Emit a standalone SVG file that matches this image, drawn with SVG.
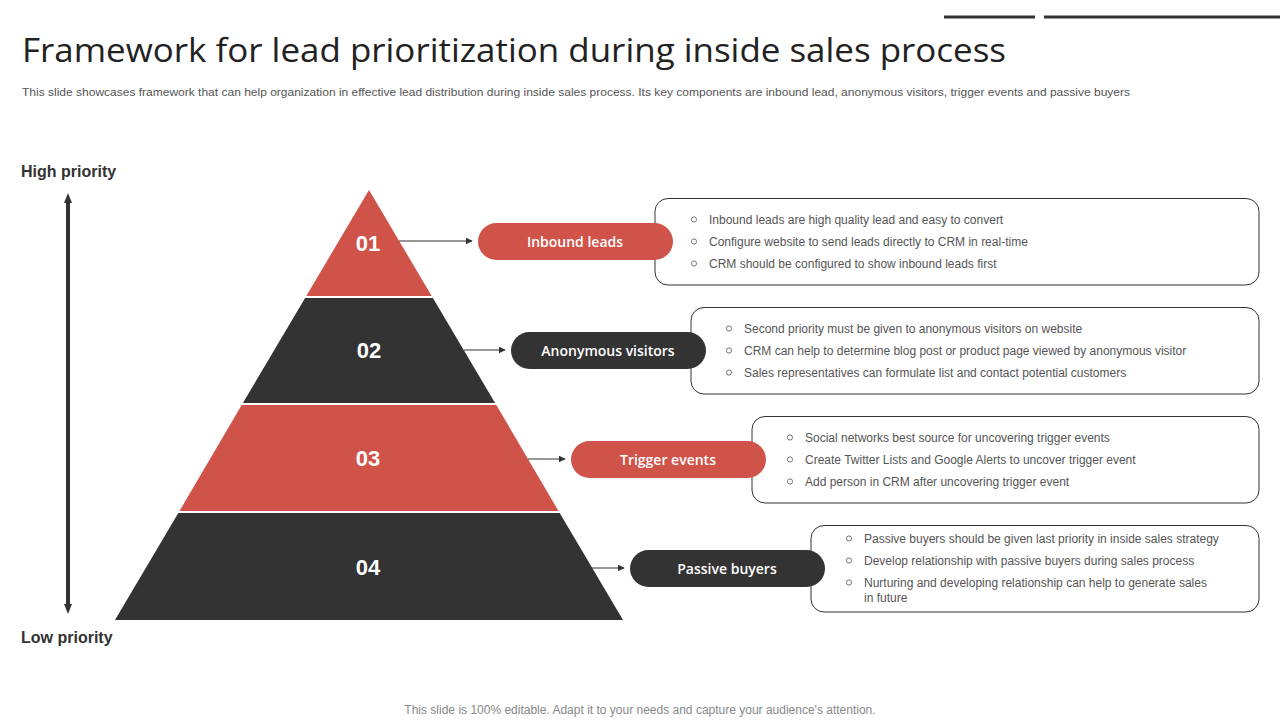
<svg xmlns="http://www.w3.org/2000/svg" width="1280" height="720" viewBox="0 0 1280 720">
<defs>
<style>
.title{font-family:"Open Sans","Liberation Sans",sans-serif;font-size:33px;fill:#222}
.sub{font-family:"Liberation Sans",Arial,sans-serif;font-size:11px;fill:#555}
.axis{font-family:"Liberation Sans",Arial,sans-serif;font-size:16px;font-weight:bold;fill:#333}
.num{font-family:"Liberation Sans",Arial,sans-serif;font-size:22px;font-weight:bold;fill:#fff;text-anchor:middle}
.pill{font-family:"Open Sans","Noto Sans",sans-serif;font-size:14px;font-weight:600;fill:#fff;text-anchor:middle}
.bul{font-family:"Liberation Sans",Arial,sans-serif;font-size:12px;fill:#555}
.dot{fill:none;stroke:#666;stroke-width:0.9}
.box{fill:#fff;stroke:#333;stroke-width:1}
.red{fill:#D0534A}
.dark{fill:#333333}
.conn{stroke:#333;stroke-width:1.2;fill:none}
.foot{font-family:"Liberation Sans",Arial,sans-serif;font-size:12px;fill:#888;text-anchor:middle}
</style>
<marker id="ah" viewBox="0 0 10 10" refX="9" refY="5" markerWidth="7" markerHeight="7" markerUnits="userSpaceOnUse" orient="auto">
<path d="M0,0 L10,5 L0,10 z" fill="#333"/>
</marker>
<marker id="vh" viewBox="0 0 10 10" refX="5" refY="5" markerWidth="10" markerHeight="10" markerUnits="userSpaceOnUse" orient="auto-start-reverse">
<path d="M0,1 L10,5 L0,9 z" fill="#333"/>
</marker>
</defs>
<rect width="1280" height="720" fill="#fff"/>

<g id="topbars">
<line x1="944" y1="17" x2="1035" y2="17" stroke="#333" stroke-width="3"/>
<line x1="1044" y1="17" x2="1280" y2="17" stroke="#333" stroke-width="3"/>
</g>

<g id="header">
<text class="title" x="22" y="62" textLength="984" lengthAdjust="spacingAndGlyphs">Framework for lead prioritization during inside sales process</text>
<text class="sub" x="22" y="96" textLength="1108" lengthAdjust="spacingAndGlyphs">This slide showcases framework that can help organization in effective  lead distribution during inside sales process. Its key  components are inbound lead, anonymous visitors, trigger events and passive buyers</text>
</g>

<g id="priority-axis">
<text class="axis" x="21" y="177">High priority</text>
<text class="axis" x="21" y="643">Low priority</text>
<line x1="68" y1="198" x2="68" y2="609" stroke="#333" stroke-width="4" marker-start="url(#vh)" marker-end="url(#vh)"/>
</g>

<g id="pyramid">
<g id="level-01">
<polygon class="red" points="369,190 431.7,296 306.3,296"/>
<text class="num" x="368" y="251">01</text>
</g>
<g id="level-02">
<polygon class="dark" points="305.1,298 432.9,298 495.1,403 242.9,403"/>
<text class="num" x="369" y="358">02</text>
</g>
<g id="level-03">
<polygon class="red" points="241.7,405 496.3,405 558.5,511 179.5,511"/>
<text class="num" x="368" y="466">03</text>
</g>
<g id="level-04">
<polygon class="dark" points="178.3,513 559.7,513 623,620 115,620"/>
<text class="num" x="368" y="575">04</text>
</g>
</g>

<g id="connectors">
<line class="conn" x1="399" y1="241" x2="472" y2="241" marker-end="url(#ah)"/>
<line class="conn" x1="464" y1="350" x2="505" y2="350" marker-end="url(#ah)"/>
<line class="conn" x1="528" y1="459" x2="565" y2="459" marker-end="url(#ah)"/>
<line class="conn" x1="591" y1="568" x2="624" y2="568" marker-end="url(#ah)"/>
</g>

<g id="box-01">
<rect class="box" x="655" y="198.5" width="604" height="86.5" rx="13"/>
<circle class="dot" cx="694" cy="219.5" r="2.6"/>
<circle class="dot" cx="694" cy="241.5" r="2.6"/>
<circle class="dot" cx="694" cy="263.5" r="2.6"/>
<text class="bul" x="709" y="224">Inbound leads are high quality lead and easy to  convert</text>
<text class="bul" x="709" y="246">Configure website to send leads directly to CRM in real-time</text>
<text class="bul" x="709" y="268">CRM  should be configured to show inbound leads first</text>
</g>
<g id="node-inbound">
<rect class="red" x="478" y="223" width="195" height="37" rx="18.5"/>
<text class="pill" x="575" y="246.5">Inbound leads</text>
</g>

<g id="box-02">
<rect class="box" x="691" y="307.5" width="568" height="86.5" rx="13"/>
<circle class="dot" cx="729" cy="328.5" r="2.6"/>
<circle class="dot" cx="729" cy="350.5" r="2.6"/>
<circle class="dot" cx="729" cy="372.5" r="2.6"/>
<text class="bul" x="744" y="333">Second priority must be given to  anonymous visitors on website</text>
<text class="bul" x="744" y="355">CRM  can help to  determine blog post or product page viewed by  anonymous visitor</text>
<text class="bul" x="744" y="377">Sales representatives can formulate list and contact potential customers</text>
</g>
<g id="node-anonymous">
<rect class="dark" x="511" y="332" width="195" height="37" rx="18.5"/>
<text class="pill" x="608" y="355.5">Anonymous visitors</text>
</g>

<g id="box-03">
<rect class="box" x="752" y="416.5" width="507" height="86.5" rx="13"/>
<circle class="dot" cx="790" cy="437.5" r="2.6"/>
<circle class="dot" cx="790" cy="459.5" r="2.6"/>
<circle class="dot" cx="790" cy="481.5" r="2.6"/>
<text class="bul" x="805" y="442">Social networks best source for uncovering trigger events</text>
<text class="bul" x="805" y="464">Create Twitter Lists and Google Alerts to uncover trigger event</text>
<text class="bul" x="805" y="486">Add person in CRM after uncovering trigger event</text>
</g>
<g id="node-trigger">
<rect class="red" x="571" y="441" width="195" height="37" rx="18.5"/>
<text class="pill" x="668" y="464.5">Trigger events</text>
</g>

<g id="box-04">
<rect class="box" x="811" y="525.5" width="448" height="86.5" rx="13"/>
<circle class="dot" cx="849" cy="538.5" r="2.6"/>
<circle class="dot" cx="849" cy="560.5" r="2.6"/>
<circle class="dot" cx="849" cy="582.5" r="2.6"/>
<text class="bul" x="864" y="543">Passive buyers should be given last priority in inside sales strategy</text>
<text class="bul" x="864" y="565">Develop relationship with passive buyers during sales process</text>
<text class="bul" x="864" y="587">Nurturing and developing relationship can help to generate sales</text>
<text class="bul" x="864" y="602">in future</text>
</g>
<g id="node-passive">
<rect class="dark" x="630" y="550" width="195" height="37" rx="18.5"/>
<text class="pill" x="727" y="573.5">Passive buyers</text>
</g>

<text class="foot" x="640" y="714">This slide is 100% editable. Adapt it to your needs and capture your audience's attention.</text>
</svg>
